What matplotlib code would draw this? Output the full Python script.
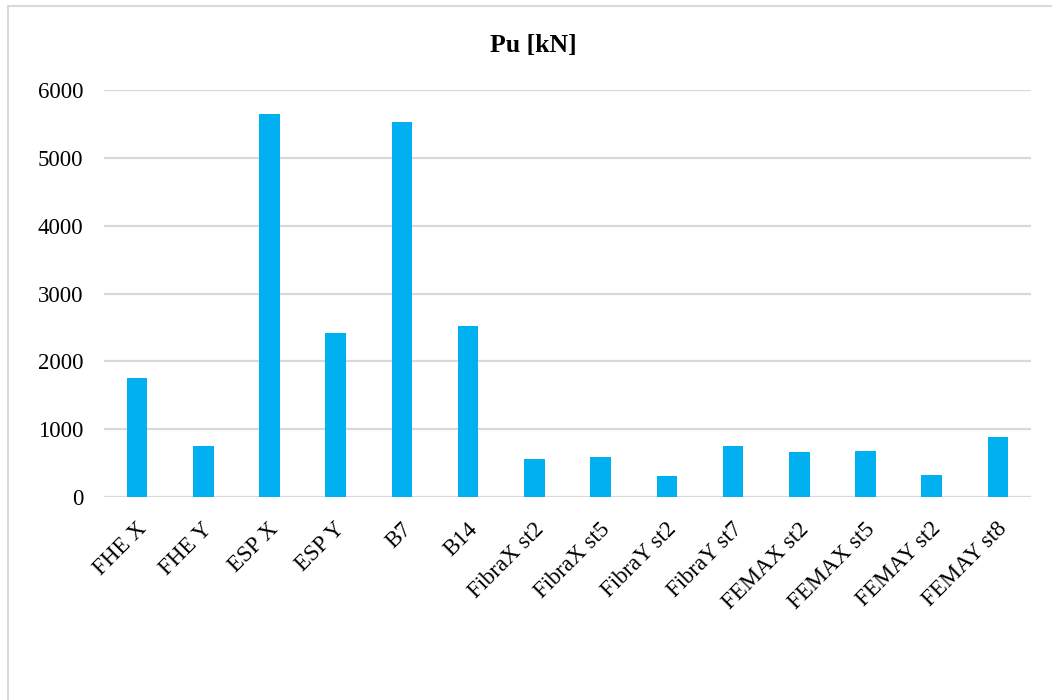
import matplotlib
matplotlib.use("Agg")
import matplotlib.pyplot as plt
from matplotlib.transforms import ScaledTranslation
from matplotlib.lines import Line2D

# Ultimate load per model / direction
categories = ["FHE X", "FHE Y", "ESP X", "ESP Y", "B7", "B14",
              "FibraX st2", "FibraX st5", "FibraY st2", "FibraY st7",
              "FEMAX st2", "FEMAX st5", "FEMAY st2", "FEMAY st8"]
pu_kn = [1750, 750, 5650, 2425, 5530, 2520,
         555, 585, 310, 750,
         660, 685, 320, 885]
y_ticks = [0, 1000, 2000, 3000, 4000, 5000, 6000]

W, H, DPI = 1052, 700, 100
fig = plt.figure(figsize=(W / DPI, H / DPI), dpi=DPI)
plt.rcParams["font.family"] = ["Liberation Serif", "DejaVu Serif"]

left, right, top, bottom = 104, 1031, 90, 497
ax = fig.add_axes([left / W, 1 - bottom / H, (right - left) / W, (bottom - top) / H])

bar_color = "#00B0F0"
grid_color = "#D9D9D9"

x = list(range(len(categories)))
ax.bar(x, pu_kn, width=0.31, color=bar_color, zorder=3)

ax.set_xlim(-0.5, len(categories) - 0.5)
ax.set_ylim(0, 6000)
ax.set_yticks(y_ticks)
ax.set_yticklabels([str(v) for v in y_ticks], fontsize=16.5)
ax.yaxis.grid(True, color=grid_color, linewidth=1.6, zorder=0)
ax.set_axisbelow(True)
ax.tick_params(axis="y", length=0, pad=15)
ax.tick_params(axis="x", length=0, pad=0)
for s in ax.spines.values():
    s.set_visible(False)

ax.set_xticks(x)
ax.set_xticklabels(categories, fontsize=16.5, rotation=45,
                   ha="right", va="center", rotation_mode="anchor")
offset = ScaledTranslation(6 / DPI, -29 / DPI, fig.dpi_scale_trans)
for lbl in ax.get_xticklabels():
    lbl.set_transform(lbl.get_transform() + offset)

# Chart title
fig.text(533 / W, 1 - 52 / H, "Pu [kN]", fontsize=18.5, fontweight="bold",
         ha="center", va="baseline")

# Chart-area frame (top and left edges)
fig.add_artist(Line2D([7.5 / W, 1.0], [1 - 6 / H, 1 - 6 / H],
                      transform=fig.transFigure, color=grid_color, linewidth=1.5))
fig.add_artist(Line2D([7.5 / W, 7.5 / W], [0, 1 - 6 / H],
                      transform=fig.transFigure, color=grid_color, linewidth=1.5))

fig.savefig("out.png", dpi=DPI, facecolor="white")
